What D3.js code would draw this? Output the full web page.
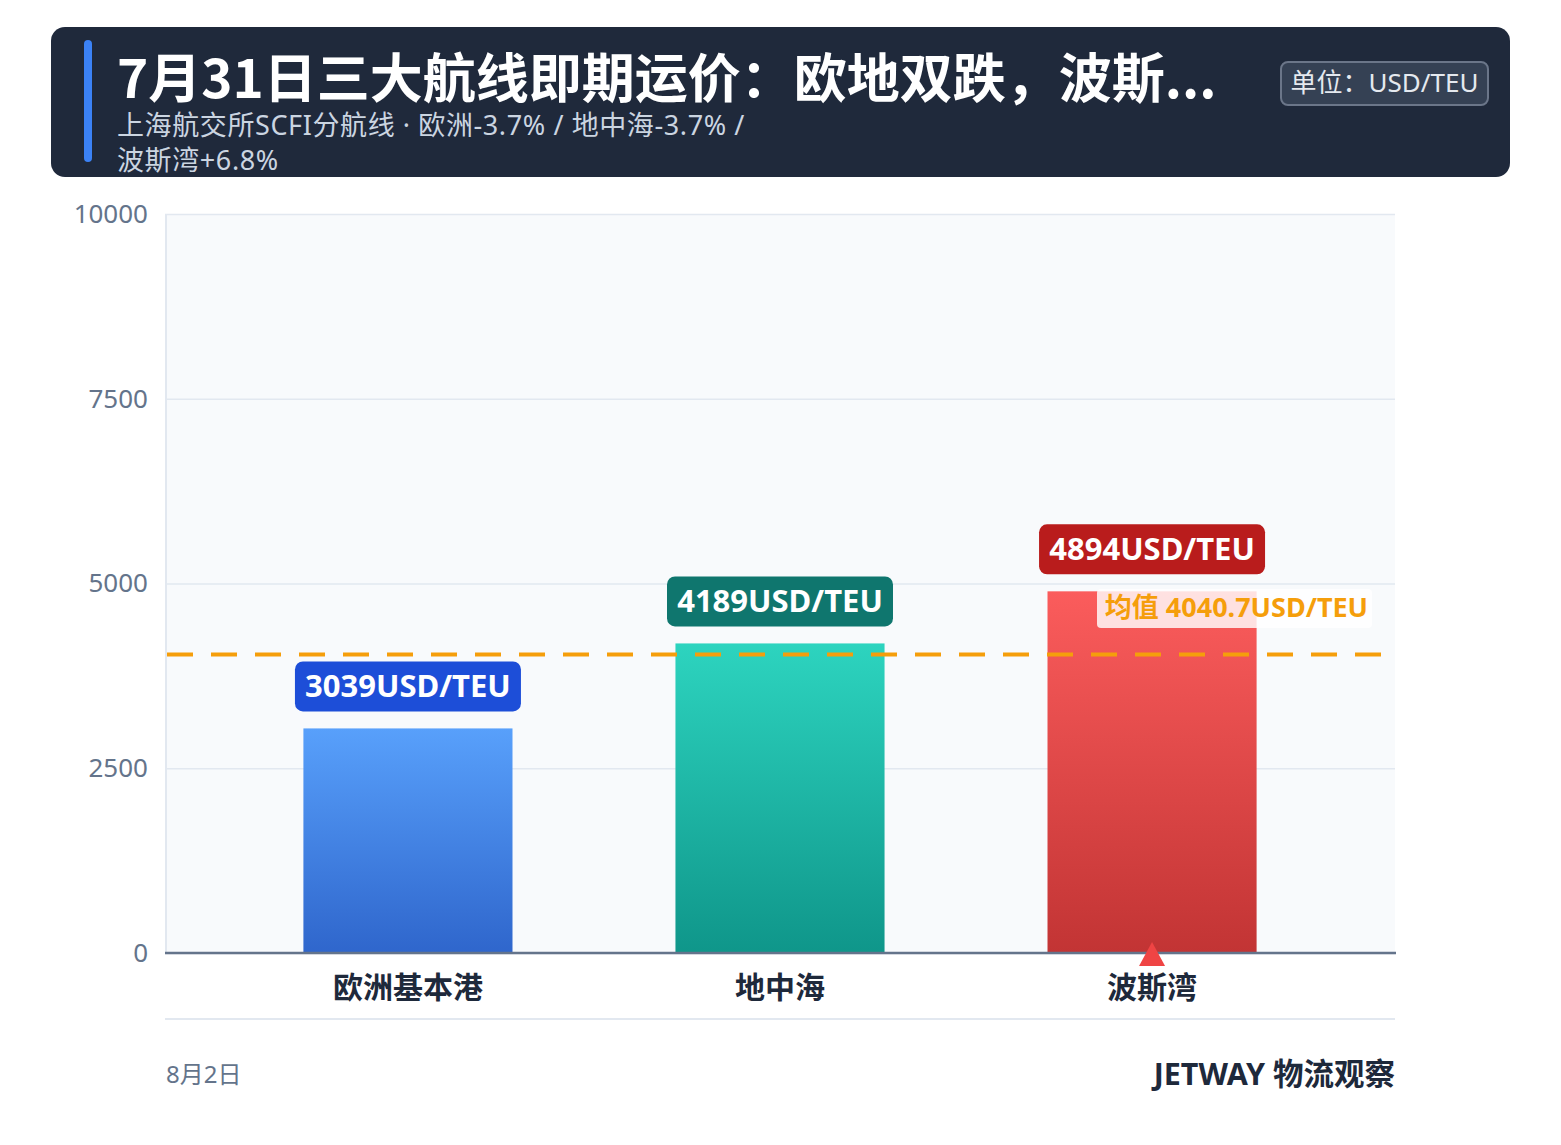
<!DOCTYPE html>
<html><head><meta charset="utf-8">
<script src="https://cdn.jsdelivr.net/npm/d3@7"></script>
<style>
html,body{margin:0;padding:0;background:#fff;}
svg{display:block;font-family:"Noto Sans","Noto Sans CJK SC",sans-serif;}
</style></head>
<body>
<svg id="c" width="1561" height="1145"></svg>
<script>
const categories = ["欧洲基本港", "地中海", "波斯湾"];
const values = [3039, 4189, 4894];
const labelTexts = ["3039USD/TEU", "4189USD/TEU", "4894USD/TEU"];
const yTicks = [0, 2500, 5000, 7500, 10000];
const avgValue = 4040.7;
const avgLabel = "均值 4040.7USD/TEU";
const titleText = "7月31日三大航线即期运价：欧地双跌，波斯...";
const subLines = ["上海航交所SCFI分航线 · 欧洲-3.7% / 地中海-3.7% /", "波斯湾+6.8%"];
const unitText = "单位：USD/TEU";
const dateText = "8月2日";
const brandText = "JETWAY 物流观察";
const barTop = ["#58a0fb", "#2dd4bf", "#fb5c5c"];
const barBottom = ["#2f66cc", "#0f968a", "#c23434"];
const boxFill = ["#1d4ed8", "#0f766e", "#b91c1c"];

const svg = d3.select("#c");
const cjk = '"Noto Sans CJK SC","Noto Sans",sans-serif';
const lat = '"Noto Sans","Noto Sans CJK SC",sans-serif';

// header
svg.append("rect").attr("x",51).attr("y",27).attr("width",1459).attr("height",150).attr("rx",14).attr("fill","#1f293b");
svg.append("rect").attr("x",84).attr("y",40).attr("width",8).attr("height",122).attr("rx",4).attr("fill","#3b82f6");
svg.append("text").attr("x",117).attr("y",98).attr("fill","#fff").attr("font-size",53).attr("font-weight",700)
  .attr("font-family",cjk).text(titleText);
subLines.forEach((s,i)=>svg.append("text").attr("x",117).attr("y",135+i*35).attr("fill","#cbd5e1")
  .attr("font-size",27).attr("letter-spacing",0.6).attr("font-family",lat).text(s));
svg.append("rect").attr("x",1281).attr("y",62).attr("width",207).attr("height",43).attr("rx",7)
  .attr("fill","#354154").attr("stroke","#6b7689").attr("stroke-width",2);
svg.append("text").attr("x",1384.5).attr("y",92).attr("text-anchor","middle").attr("fill","#e5e9ef")
  .attr("font-size",26).attr("font-family",lat).text(unitText);

// chart
const x0=165, x1=1395, yTop=214, yBot=953;
const y = d3.scaleLinear().domain([0,10000]).range([yBot,yTop]);
const x = d3.scaleBand().domain(categories).range([x0,x1]).paddingInner(0.438).paddingOuter(0.372);

svg.append("rect").attr("x",x0).attr("y",yTop).attr("width",x1-x0).attr("height",yBot-yTop).attr("fill","#f8fafc");
svg.append("line").attr("x1",x0+1).attr("x2",x0+1).attr("y1",yTop).attr("y2",yBot).attr("stroke","#e2e8f0").attr("stroke-width",2);

const yAxis = svg.append("g").attr("transform",`translate(${x0},0)`)
  .call(d3.axisLeft(y).tickValues(yTicks).tickSize(-(x1-x0)).tickPadding(17).tickFormat(d=>String(d)));
yAxis.select(".domain").remove();
yAxis.selectAll(".tick line").attr("stroke","#e2e8f0").attr("stroke-width",1.5);
yAxis.selectAll(".tick text").attr("fill","#64748b").attr("font-size",26).attr("font-family",lat);

const defs = svg.append("defs");
categories.forEach((c,i)=>{
  const g = defs.append("linearGradient").attr("id","g"+i).attr("x1",0).attr("x2",0).attr("y1",0).attr("y2",1);
  g.append("stop").attr("offset","0%").attr("stop-color",barTop[i]);
  g.append("stop").attr("offset","100%").attr("stop-color",barBottom[i]);
});

svg.append("g").selectAll("rect").data(values).join("rect")
  .attr("x",(d,i)=>x(categories[i])).attr("width",x.bandwidth())
  .attr("y",d=>y(d)).attr("height",d=>yBot-y(d)).attr("fill",(d,i)=>`url(#g${i})`);

// average line
svg.append("line").attr("x1",x0).attr("x2",x1).attr("y1",y(avgValue)).attr("y2",y(avgValue))
  .attr("stroke","#f59e0b").attr("stroke-width",4).attr("stroke-dasharray","26,18").attr("stroke-dashoffset",-2);

// value label boxes
const lab = svg.append("g").selectAll("g").data(values).join("g")
  .attr("transform",(d,i)=>`translate(${x(categories[i])+x.bandwidth()/2},${y(d)-17})`);
lab.append("rect").attr("x",-113).attr("y",-50).attr("width",226).attr("height",50).attr("rx",8)
  .attr("fill",(d,i)=>boxFill[i]);
lab.append("text").attr("x",0).attr("y",-14).attr("text-anchor","middle").attr("fill","#fff")
  .attr("font-size",31).attr("font-weight",700).attr("font-family",lat).text((d,i)=>labelTexts[i]);

// avg label
svg.append("rect").attr("x",1097).attr("y",589).attr("width",275).attr("height",39).attr("rx",4)
  .attr("fill","#ffffff").attr("fill-opacity",0.82);
svg.append("text").attr("x",1368).attr("y",617).attr("text-anchor","end").attr("fill","#f59e0b")
  .attr("font-size",27).attr("font-weight",700).attr("font-family",lat).text(avgLabel);

// x axis
svg.append("line").attr("x1",x0).attr("x2",x1+1).attr("y1",yBot).attr("y2",yBot).attr("stroke","#64748b").attr("stroke-width",2.5);
const xAxis = svg.append("g").attr("transform",`translate(0,${yBot})`).call(d3.axisBottom(x).tickSize(0).tickPadding(24));
xAxis.select(".domain").remove();
xAxis.selectAll(".tick text").attr("fill","#1e293b").attr("font-size",30).attr("font-weight",700).attr("font-family",cjk);

// triangle marker on max
const maxI = values.indexOf(d3.max(values));
const cx = x(categories[maxI])+x.bandwidth()/2;
svg.append("path").attr("d",d3.line()([[cx,942],[cx+13,966],[cx-13,966]])+"Z").attr("fill","#ef4444");

// separator & footer
svg.append("line").attr("x1",x0).attr("x2",x1).attr("y1",1019).attr("y2",1019).attr("stroke","#e2e8f0").attr("stroke-width",2);
svg.append("text").attr("x",166).attr("y",1083).attr("fill","#64748b").attr("font-size",24).attr("font-family",lat).text(dateText);
svg.append("text").attr("x",1395).attr("y",1085).attr("text-anchor","end").attr("fill","#1e293b")
  .attr("font-size",30.5).attr("font-weight",700).attr("font-family",lat).text(brandText);
</script>
</body></html>
